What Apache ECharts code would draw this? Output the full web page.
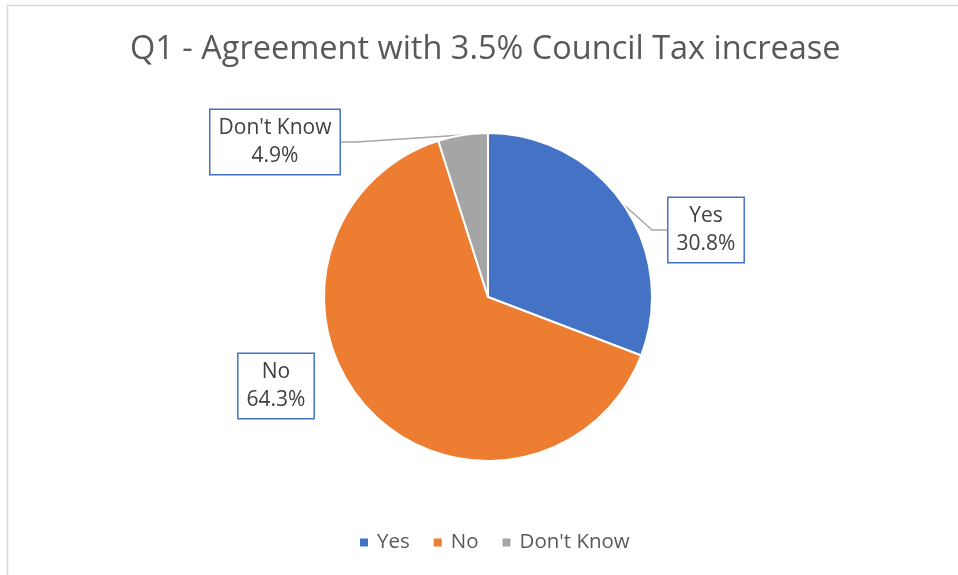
<!DOCTYPE html>
<html><head><meta charset="utf-8">
<script src="https://cdn.jsdelivr.net/npm/echarts@6/dist/echarts.min.js"></script>
<style>html,body{margin:0;padding:0;background:#fff}#c{width:958px;height:575px}</style>
</head><body><div id="c"></div>
<script>
const categories = ["Yes", "No", "Don't Know"];
const values = [30.8, 64.3, 4.9];
const colors = ["#4472C4", "#ED7D31", "#A5A5A5"];
const titleText = "Q1 - Agreement with 3.5% Council Tax increase";

const labelPos = [[706, 230], [276, 386], [275, 142]];
const chart = echarts.init(document.getElementById('c'));
chart.setOption({
  animation: false,
  graphic: [{type:'rect', shape:{x:7.5, y:5.5, width:1000, height:1000}, style:{fill:'none', stroke:'#D9D9D9', lineWidth:1.5}, z:-1}],
  title: {text: titleText, left: 125, top: 28, textStyle:{fontFamily:'Open Sans', fontWeight:'normal', fontSize:32.5, color:'#595959'}},
  legend: {bottom: 17, left: 353, itemWidth: 10, itemHeight: 10, itemGap: 22, icon:'rect',
    textStyle:{fontFamily:'Open Sans', fontSize:20.5, color:'#595959', padding:[0,0,0,3]}},
  series: [{
    type: 'pie', center:[488, 297], radius: 164, startAngle: 90, clockwise: true,
    itemStyle:{borderColor:'#fff', borderWidth:2},
    label: {show:true, formatter: p => p.name + '\n' + p.value.toFixed(1) + '%',
      fontFamily:'Open Sans', fontSize:21, color:'#404040', lineHeight:28,
      backgroundColor:'#fff', borderColor:'#4472C4', borderWidth:1.5, padding:[4,8,4,8], align:'center'},
    labelLine: {show:true, lineStyle:{color:'#A6A6A6', width:1.5}, length:20, length2:15},
    labelLayout: function(p){ const q = labelPos[p.dataIndex]; return {x:q[0], y:q[1], align:'center', verticalAlign:'middle'}; },
    data: categories.map((c,i)=>({name:c, value:values[i], itemStyle:{color:colors[i]}, labelLine:{show: i!==1}}))
  }]
});
</script></body></html>
